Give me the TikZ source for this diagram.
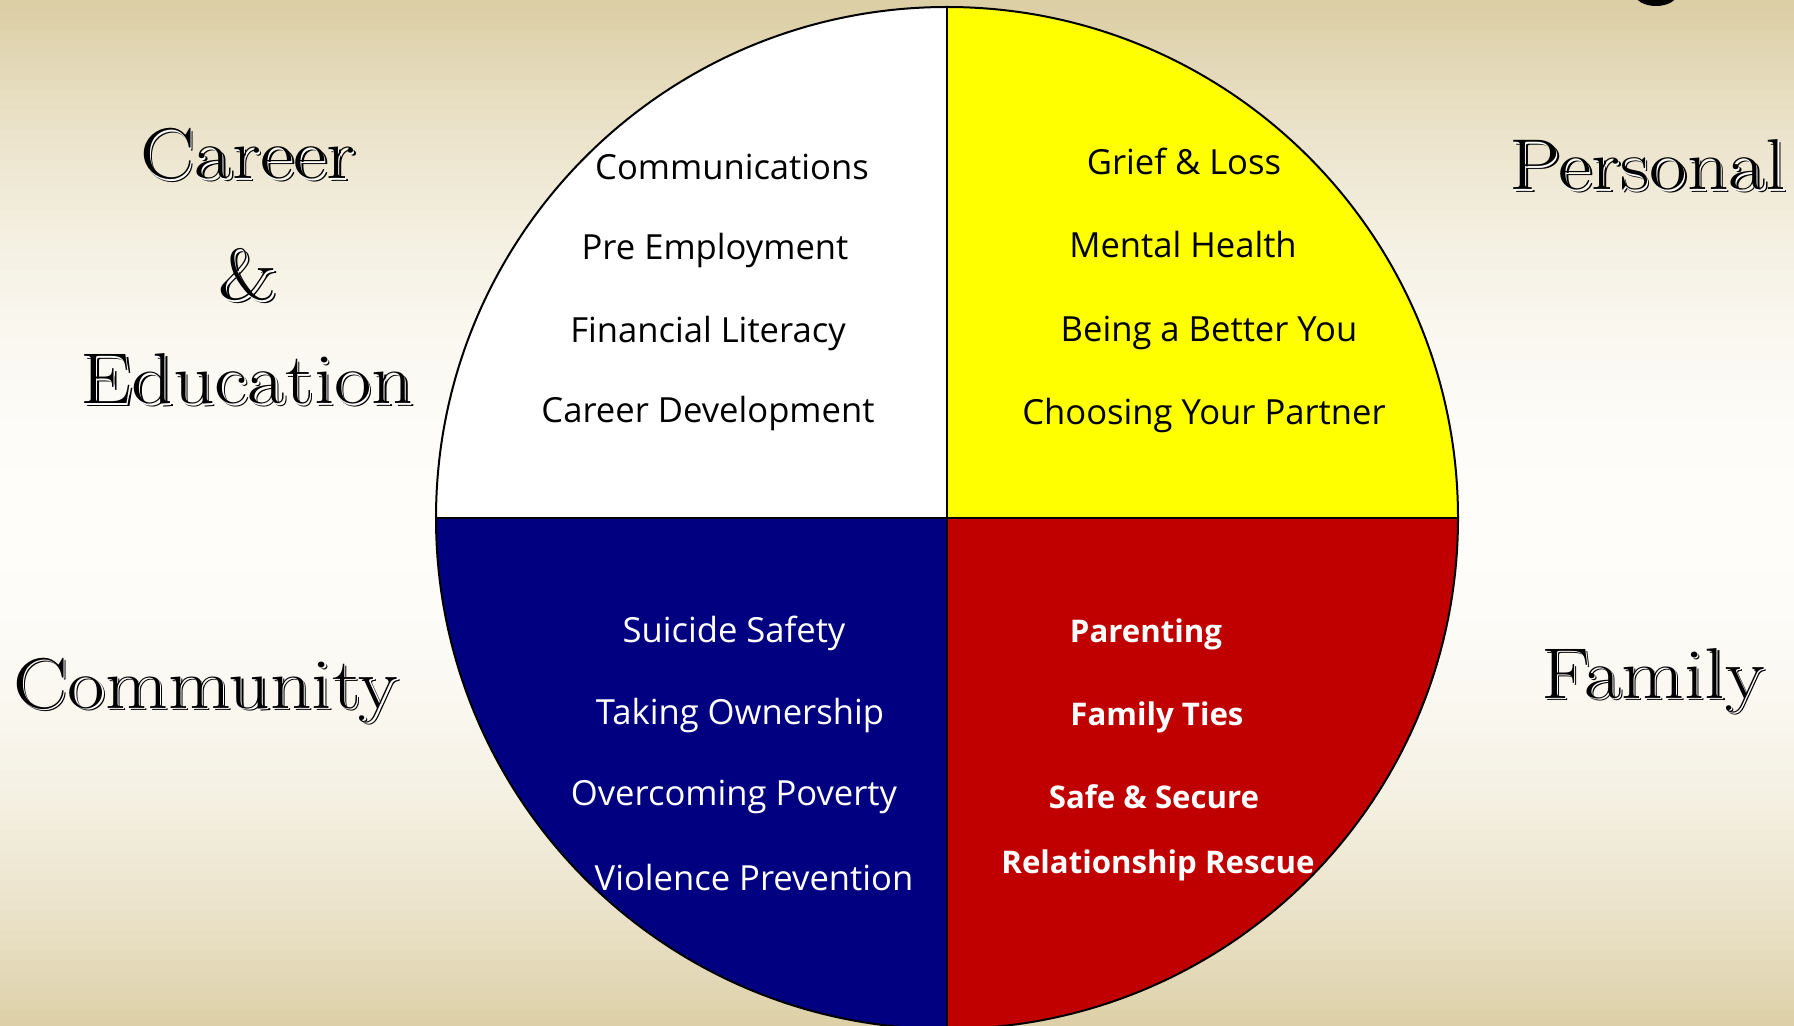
\documentclass[tikz,border=0pt]{standalone}
\usepackage{fontspec}
\newfontfamily\handfont{Open Sans}
\newfontfamily\headfont[FakeStretch=1.13]{Latin Modern Roman}
\definecolor{bgtan}{RGB}{220,207,166}
\definecolor{bgwhite}{RGB}{254,253,250}
\definecolor{qyellow}{RGB}{255,255,0}
\definecolor{qnavy}{RGB}{0,0,128}
\definecolor{qred}{RGB}{192,0,0}
\tikzset{
  hand/.style={font=\handfont\fontsize{17.3}{20}\selectfont, anchor=base, inner sep=0pt},
  handbold/.style={font=\handfont\bfseries\fontsize{15.6}{20}\selectfont, anchor=base, inner sep=0pt, text=white},
  headtxt/.style={font=\headfont\fontsize{36}{40}\selectfont, anchor=base, inner sep=0pt},
  rim/.style={draw=black, line width=1pt},
}
\newcommand\engraved[3]{%
  \node[headtxt, text=black, xshift=1.2pt, yshift=-1.2pt] (#1s) at (#2) {#3};
  \node[headtxt, text=white, xshift=0.55pt, yshift=-0.55pt] (#1w) at (#2) {#3};
  \node[headtxt, text=black] (#1) at (#2) {#3};}
\begin{document}
\begin{tikzpicture}[x=0.5pt, y=-0.5pt]
\useasboundingbox (0,0) rectangle (1794,1026);
\clip (0,0) rectangle (1794,1026);
% background: vertical gradient tan - white - tan
\foreach \i in {0,...,102} {
  \pgfmathsetmacro\d{min(1,abs(\i*10+5-520)/510)}
  \pgfmathtruncatemacro\p{100*\d*\d}
  \fill[bgtan!\p!bgwhite] (0,\i*10) rectangle (1794,\i*10+10.6);
}
% fragment of a title glyph at top right
\coordinate (glyph) at (1656,-6);
\fill[black] (glyph) ellipse (21 and 12);
% wheel
\coordinate (c) at (947,518);
\coordinate (top) at (947,7);
\coordinate (bot) at (947,1029);
\coordinate (lft) at (436,518);
\coordinate (rgt) at (1458,518);
\begin{scope}
  \clip (c) circle (511);
  \fill[white]   (0,0) rectangle (c);
  \fill[qyellow] (1794,0) rectangle (c);
  \fill[qnavy]   (0,1100) rectangle (c);
  \fill[qred]    (1794,1100) rectangle (c);
\end{scope}
\draw[rim] (c) circle (511);
\draw[rim] (top) -- (bot);
\draw[rim] (lft) -- (rgt);
% upper left
\node[hand] (t1) at (732,180) {Communications};
\node[hand] (t2) at (715,260) {Pre Employment};
\node[hand] (t3) at (708,343) {Financial Literacy};
\node[hand] (t4) at (708,423) {Career Development};
% upper right
\node[hand] (p1) at (1184,175) {Grief \& Loss};
\node[hand] (p2) at (1183,258) {Mental Health};
\node[hand] (p3) at (1209,342) {Being a Better You};
\node[hand] (p4) at (1204,425) {Choosing Your Partner};
% lower left
\node[hand, text=white] (m1) at (734,642) {Suicide Safety};
\node[hand, text=white] (m2) at (740,724) {Taking Ownership};
\node[hand, text=white] (m3) at (734,805) {Overcoming Poverty};
\node[hand, text=white] (m4) at (754,890) {Violence Prevention};
% lower right
\node[handbold] (f1) at (1146,642) {Parenting};
\node[handbold] (f2) at (1157,725) {Family Ties};
\node[handbold] (f3) at (1154,808) {Safe \& Secure};
\node[handbold] (f4) at (1158,873) {Relationship Rescue};
% headings
\engraved{hcareer}{248,179}{Career}
\engraved{hamp}{248,300}{\&}
\engraved{hedu}{247,404}{Education}
\engraved{hpers}{1648,190}{Personal}
\engraved{hcomm}{206,708}{Community}
\engraved{hfam}{1653,698}{Family}
\end{tikzpicture}
\end{document}
